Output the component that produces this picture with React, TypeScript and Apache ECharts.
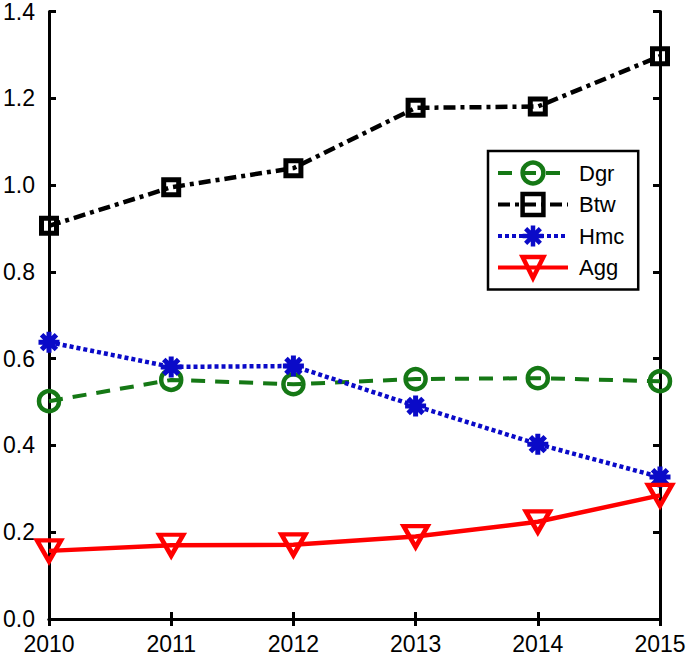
import React, { useEffect, useRef } from "react";
import * as echarts from "echarts";

const years = ["2010", "2011", "2012", "2013", "2014", "2015"];
const dgr = [0.502, 0.551, 0.541, 0.553, 0.555, 0.548];
const btw = [0.906, 0.995, 1.039, 1.178, 1.181, 1.297];
const hmc = [0.638, 0.581, 0.583, 0.491, 0.403, 0.327];
const agg = [0.157, 0.17, 0.171, 0.19, 0.224, 0.285];
const seriesNames = ["Dgr", "Btw", "Hmc", "Agg"];

const FONT = "'Liberation Sans', Arial, sans-serif";
const ASTERISK =
  "path://M10,0L10,20M0,10L20,10M2.93,2.93L17.07,17.07M2.93,17.07L17.07,2.93";

export default function App() {
  const ref = useRef<HTMLDivElement>(null);
  useEffect(() => {
    document.body.style.margin = "0";
    const chart = echarts.init(ref.current!, undefined, { renderer: "svg" });
    const tick = { show: true, inside: true, length: 7, lineStyle: { color: "#000", width: 3 } };
    const axLine = { show: true, lineStyle: { color: "#000", width: 3 } };
    chart.setOption({
      animation: false,
      backgroundColor: "#fff",
      grid: { left: 49, right: 29, top: 11, bottom: 47, containLabel: false },
      legend: {
        data: seriesNames,
        orient: "vertical",
        left: 488,
        top: 151,
        itemWidth: 70,
        itemHeight: 26,
        itemGap: 5.5,
        padding: [9, 14, 9, 8],
        borderColor: "#000",
        borderWidth: 2.5,
        backgroundColor: "#fff",
        selectedMode: false,
        itemStyle: { borderWidth: 4.5 },
        lineStyle: { width: 4 },
        textStyle: { fontFamily: FONT, fontSize: 22, color: "#000", lineHeight: 26, padding: [0, 0, 0, 6] },
      },
      xAxis: [
        {
          type: "category",
          data: years,
          boundaryGap: false,
          axisLine: axLine,
          axisTick: { ...tick, alignWithLabel: true },
          axisLabel: { fontFamily: FONT, fontSize: 23, color: "#000", margin: 13 },
          splitLine: { show: false },
        },
        {
          type: "category",
          data: years,
          boundaryGap: false,
          position: "top",
          axisLine: axLine,
          axisTick: tick,
          axisLabel: { show: false },
          splitLine: { show: false },
        },
      ],
      yAxis: [
        {
          type: "value",
          min: 0,
          max: 1.4,
          interval: 0.2,
          axisLine: axLine,
          axisTick: tick,
          axisLabel: {
            fontFamily: FONT,
            fontSize: 23,
            color: "#000",
            margin: 14,
            formatter: (v: number) => v.toFixed(1),
          },
          splitLine: { show: false },
        },
        {
          type: "value",
          min: 0,
          max: 1.4,
          interval: 0.2,
          position: "right",
          axisLine: axLine,
          axisTick: tick,
          axisLabel: { show: false },
          splitLine: { show: false },
        },
      ],
      series: [
        {
          name: "Dgr",
          type: "line",
          data: dgr,
          symbol: "circle",
          symbolSize: 20,
          itemStyle: { color: "transparent", borderColor: "#157815", borderWidth: 4.5 },
          lineStyle: { color: "#157815", width: 4, type: [14, 10] },
        },
        {
          name: "Btw",
          type: "line",
          data: btw,
          symbol: "rect",
          symbolSize: 15,
          itemStyle: { color: "transparent", borderColor: "#000", borderWidth: 5 },
          lineStyle: { color: "#000", width: 4.5, type: [12, 5, 4, 5] },
        },
        {
          name: "Hmc",
          type: "line",
          data: hmc,
          symbol: ASTERISK,
          symbolSize: 21,
          itemStyle: { color: "transparent", borderColor: "#0a0ac8", borderWidth: 5 },
          lineStyle: { color: "#0a0ac8", width: 4.5, type: [4, 3] },
        },
        {
          name: "Agg",
          type: "line",
          data: agg,
          symbol: "triangle",
          symbolRotate: 180,
          symbolSize: [24, 21],
          itemStyle: { color: "transparent", borderColor: "#f00", borderWidth: 4.5 },
          lineStyle: { color: "#f00", width: 4.5, type: "solid" },
        },
      ],
    });
    return () => chart.dispose();
  }, []);
  return <div ref={ref} style={{ width: 689, height: 666 }} />;
}
